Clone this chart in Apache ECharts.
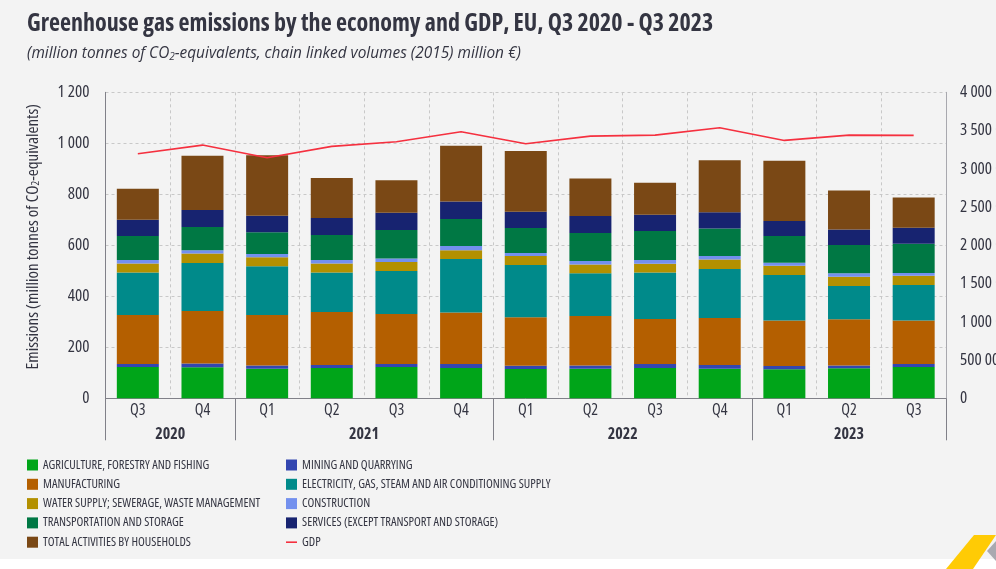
<!DOCTYPE html>
<html>
<head>
<meta charset="utf-8">
<style>
  html, body { margin: 0; padding: 0; background: #fff; }
  #main { width: 996px; height: 569px; }
</style>
<script src="https://cdn.jsdelivr.net/npm/echarts@6/dist/echarts.min.js"></script>
</head>
<body>
<div id="main"></div>
<script>
const quarters = ['Q3', 'Q4', 'Q1', 'Q2', 'Q3', 'Q4', 'Q1', 'Q2', 'Q3', 'Q4', 'Q1', 'Q2', 'Q3']
const years = ['2020', '2021', '2022', '2023']
const quartersPerYear = [2, 4, 4, 3]

const agriculture = [123, 122, 116, 119, 123, 119, 115, 116, 119, 116, 114, 118, 123]
const mining = [12, 14, 13, 12, 12, 16, 13, 13, 16, 15, 13, 11, 12]
const manufacturing = [192, 206, 198, 207, 196, 201, 190, 194, 176, 184, 178, 181, 170]
const electricity = [166, 189, 191, 155, 168, 210, 205, 167, 182, 192, 179, 130, 139]
const water = [36, 37, 35, 36, 36, 35, 35, 35, 35, 37, 36, 37, 37]
const construction = [13, 13, 13, 13, 13, 16, 12, 13, 14, 14, 12, 13, 10]
const transport = [94, 91, 85, 98, 112, 106, 98, 110, 114, 108, 104, 111, 115]
const services = [64, 66, 65, 67, 68, 69, 64, 67, 64, 64, 59, 61, 63]
const households = [122, 213, 237, 157, 127, 218, 238, 147, 125, 204, 237, 153, 118]
const gdp = [3197000, 3310000, 3145000, 3293000, 3353000, 3484000, 3327000, 3427000, 3440000, 3537000, 3371000, 3440000, 3437000]

// the "condensed" keyword lands in the canvas font string, Open Sans has that width
const FONT = '"Open Sans", sans-serif'
const NARROW = 'condensed'
const NARROW_BOLD = 'bold condensed'
const INK = '#343542'

const barSeries = [
  ['AGRICULTURE, FORESTRY AND FISHING', agriculture, '#00a519'],
  ['MINING AND QUARRYING', mining, '#3346b0'],
  ['MANUFACTURING', manufacturing, '#b45f00'],
  ['ELECTRICITY, GAS, STEAM AND AIR CONDITIONING SUPPLY', electricity, '#008a8a'],
  ['WATER SUPPLY; SEWERAGE, WASTE MANAGEMENT', water, '#b39000'],
  ['CONSTRUCTION', construction, '#7390ee'],
  ['TRANSPORTATION AND STORAGE', transport, '#007844'],
  ['SERVICES (EXCEPT TRANSPORT AND STORAGE)', services, '#172370'],
  ['TOTAL ACTIVITIES BY HOUSEHOLDS', households, '#7a4815']
]

// year brackets below the quarter labels, worked out from the quarter counts
let yearEdges = [0]
let yearMiddles = []
quartersPerYear.forEach(n => {
  let start = yearEdges[yearEdges.length - 1]
  yearEdges.push(start + n)
  yearMiddles.push(start + n / 2)
})

function spaced(v) {
  return String(v).replace(/\B(?=(\d{3})+$)/g, ' ')
}

function legendAt(left, names) {
  return {
    left,
    top: 458.5,
    padding: 0,
    orient: 'vertical',
    itemWidth: 11,
    itemHeight: 11,
    itemGap: 6.3,
    selectedMode: false,
    textStyle: { fontFamily: FONT, fontWeight: NARROW, fontSize: 12.5, color: INK },
    data: names.map(name => name === 'GDP'
      ? { name, icon: 'path://M0 0L0 0M0 11L0 11M0 4.7H11V6.3H0Z' }
      : { name, icon: 'rect' })
  }
}

const names = barSeries.map(s => s[0])
const series = barSeries.map(([name, data, color]) => ({
  name,
  type: 'bar',
  stack: 'emissions',
  data,
  barWidth: 42,
  itemStyle: { color }
}))
series.push({
  name: 'GDP',
  type: 'line',
  yAxisIndex: 1,
  data: gdp,
  symbol: 'none',
  z: 5,
  lineStyle: { color: '#f5303f', width: 1.6 },
  itemStyle: { color: '#f5303f' }
})

const chart = echarts.init(document.getElementById('main'), null, { renderer: 'canvas' })
chart.setOption({
  animation: false,
  backgroundColor: '#ffffff',
  graphic: [
    { type: 'rect', z: -10, shape: { x: 0, y: 0, width: 996, height: 559 }, style: { fill: '#f3f3f3' } },
    { type: 'polygon', z: -9, shape: { points: [[987, 551], [996, 541], [996, 561]] }, style: { fill: '#a9a9b0' } },
    { type: 'polygon', z: -8, shape: { points: [[974, 535], [996, 535], [973, 569], [946, 569]] }, style: { fill: '#ffcb05' } }
  ],
  title: [
    {
      text: 'Greenhouse gas emissions by the economy and GDP, EU, Q3 2020 - Q3 2023',
      left: 27,
      top: 12,
      padding: 0,
      textStyle: { fontFamily: FONT, fontSize: 24, fontWeight: NARROW_BOLD, color: INK }
    },
    {
      text: '(million tonnes of CO{sub|2}-equivalents, chain linked volumes (2015) million €)',
      left: 27,
      top: 46,
      padding: 0,
      textStyle: {
        fontFamily: FONT, fontSize: 15.4, fontStyle: 'italic', fontWeight: 'normal', color: INK,
        rich: { sub: { fontFamily: FONT, fontSize: 10, fontStyle: 'italic', fontWeight: 'normal', color: INK, padding: [6, 0, 0, 0] } }
      }
    }
  ],
  legend: [
    legendAt(27, names.filter((n, i) => i % 2 === 0)),
    legendAt(286, names.filter((n, i) => i % 2 === 1).concat('GDP'))
  ],
  grid: { left: 105.5, right: 50, top: 92.3, bottom: 170.7, outerBoundsMode: 'none' },
  xAxis: [
    {
      type: 'category',
      data: quarters,
      axisLine: { lineStyle: { color: '#808088', width: 1 } },
      axisTick: { length: 10, interval: 0, lineStyle: { color: '#808088' } },
      axisLabel: { interval: 0, margin: 4, fontFamily: FONT, fontWeight: NARROW, fontSize: 16, color: INK },
      splitLine: { show: true, interval: 0, lineStyle: { type: [3, 3], color: '#c8c8c8' } }
    },
    {
      type: 'value',
      position: 'bottom',
      min: 0,
      max: quarters.length,
      axisLine: { show: false },
      axisTick: { show: true, customValues: yearEdges, length: 42, lineStyle: { color: '#808088' } },
      axisLabel: {
        show: true,
        customValues: yearMiddles,
        margin: 28,
        fontFamily: FONT,
        fontSize: 16,
        fontWeight: NARROW_BOLD,
        color: INK,
        formatter: v => years[yearMiddles.indexOf(v)]
      },
      splitLine: { show: false }
    }
  ],
  yAxis: [
    {
      type: 'value',
      min: 0,
      max: 1200,
      interval: 200,
      name: 'Emissions (million tonnes of CO{sub|2}-equivalents)',
      nameLocation: 'middle',
      nameGap: 64,
      nameTextStyle: {
        fontFamily: FONT, fontWeight: NARROW, fontSize: 17, color: INK,
        padding: [0, 0, 0, 17],
        rich: { sub: { fontFamily: FONT, fontWeight: NARROW, fontSize: 11, color: INK, padding: [6, 0, 0, 0] } }
      },
      axisLine: { show: true, lineStyle: { color: '#808088', width: 1 } },
      axisTick: { show: false },
      axisLabel: { margin: 16, fontFamily: FONT, fontWeight: NARROW, fontSize: 17, color: INK, formatter: spaced },
      splitLine: { show: true, lineStyle: { type: [3, 3], color: '#c8c8c8' } }
    },
    {
      type: 'value',
      min: 0,
      max: 4000000,
      interval: 500000,
      position: 'right',
      axisLine: { show: true, lineStyle: { color: '#a8a8ae', width: 1 } },
      axisTick: { show: false },
      axisLabel: { margin: 14, fontFamily: FONT, fontWeight: NARROW, fontSize: 17, color: INK, formatter: spaced },
      splitLine: { show: false }
    }
  ],
  series
})
</script>
</body>
</html>
